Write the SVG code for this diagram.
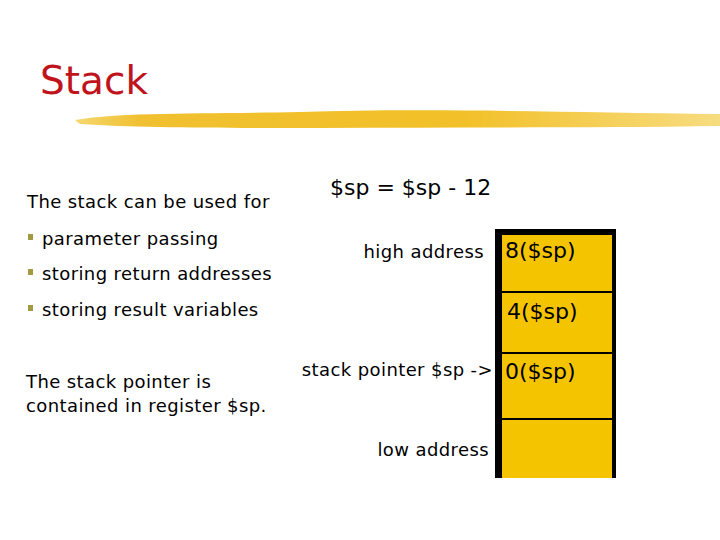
<svg xmlns="http://www.w3.org/2000/svg" width="720" height="540" viewBox="0 0 720 540">
<defs>
<style>
.t{font-family:"DejaVu Sans","Noto Sans",sans-serif;fill:#000;font-size:18px;letter-spacing:0.4px}
.c{font-family:"DejaVu Sans","Noto Sans",sans-serif;fill:#000;font-size:22px}
.b{fill:#a09a40}
.div{stroke:#000;stroke-width:2}
</style>
<linearGradient id="brush" x1="0" y1="0" x2="1" y2="0">
<stop offset="0" stop-color="#f5d870"/>
<stop offset="0.1" stop-color="#f0c030"/>
<stop offset="0.6" stop-color="#f2c028"/>
<stop offset="1" stop-color="#f7dc80"/>
</linearGradient>
</defs>
<rect width="720" height="540" fill="#fff"/>
<g id="title">
<text x="40" y="94" font-family="DejaVu Sans,sans-serif" font-size="39" fill="#c0141c">Stack</text>
<path d="M75 120 C120 112 200 114 300 112 C420 108 560 112 720 114 L720 126 C600 128 460 127 320 128 C220 128 140 128 80 124 Z" fill="url(#brush)"/>
</g>
<g id="left-text">
<text class="t" x="27" y="208">The stack can be used for</text>
<rect class="b" x="28" y="234" width="5" height="6"/>
<text class="t" x="42" y="245">parameter passing</text>
<rect class="b" x="28" y="269" width="5" height="6"/>
<text class="t" x="42" y="280">storing return addresses</text>
<rect class="b" x="28" y="305" width="5" height="6"/>
<text class="t" x="42" y="316">storing result variables</text>
<text class="t" x="26" y="388">The stack pointer is</text>
<text class="t" x="26" y="412">contained in register $sp.</text>
</g>
<g id="formula">
<text class="c" x="330" y="195">$sp = $sp - 12</text>
</g>
<g id="stack">
<rect x="495" y="229" width="121" height="249" fill="#000"/>
<rect x="502" y="235" width="110" height="243" fill="#f5c400"/>
<line class="div" x1="502" y1="292" x2="612" y2="292"/>
<line class="div" x1="502" y1="353" x2="612" y2="353"/>
<line class="div" x1="502" y1="419" x2="612" y2="419"/>
<text class="c" x="505" y="258">8($sp)</text>
<text class="c" x="507" y="319">4($sp)</text>
<text class="c" x="505" y="379">0($sp)</text>
</g>
<g id="labels">
<text class="t" x="484" y="258" text-anchor="end">high address</text>
<text class="t" x="493" y="376" text-anchor="end">stack pointer $sp -&gt;</text>
<text class="t" x="489" y="456" text-anchor="end">low address</text>
</g>
</svg>
